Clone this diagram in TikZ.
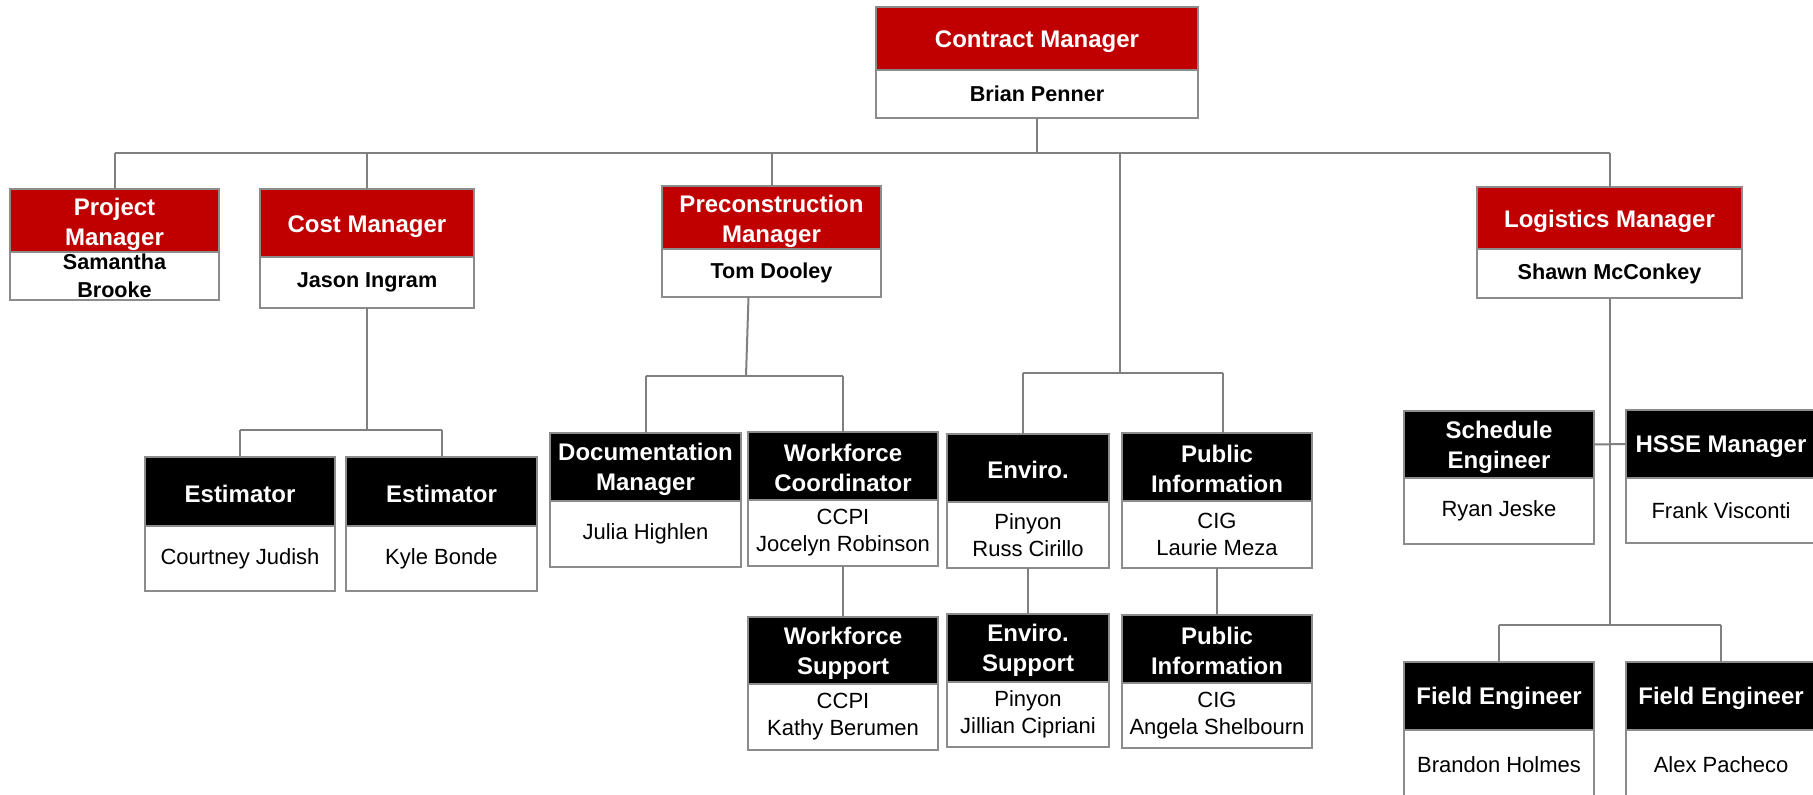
\documentclass[tikz,border=0pt]{standalone}
\usepackage{fontspec}
\setmainfont{Liberation Sans}
\usetikzlibrary{calc}
\definecolor{hred}{RGB}{192,0,0}
\definecolor{lgray}{RGB}{128,128,128}
\definecolor{bgray}{RGB}{140,140,140}
\tikzset{
  box/.style={draw=bgray, line width=0.8pt, rectangle, inner xsep=2pt, inner ysep=0pt, outer sep=0pt, anchor=north west, align=center},
  headtext/.style={text=white, align=center, inner sep=0pt, font=\fontsize{12}{15}\selectfont\bfseries},
  redhead/.style={box, fill=hred},
  redlabel/.style={headtext, yshift=-1.8pt},
  redbody/.style={box, fill=white, text=black, font=\fontsize{10.8}{14}\selectfont\bfseries},
  blackhead/.style={box, fill=black},
  blacklabel/.style={headtext, yshift=-1.2pt},
  blackbody/.style={box, fill=white, text=black, font=\fontsize{11}{13.5}\selectfont},
  conn/.style={draw=lgray, line width=1pt},
}
\newcommand{\obox}[9]{%
  \node[#7head, minimum width={(#4-#2)*0.5pt}, minimum height={(#5-#3)*0.5pt},
        label={[#7label]center:{#8}}] (#1h) at (#2,#3) {};
  \node[#7body, minimum width={(#4-#2)*0.5pt}, minimum height={(#6-#5)*0.5pt}] (#1) at (#2,#5) {#9};
}
\begin{document}
\begin{tikzpicture}[x=0.5pt,y=-0.5pt]
\useasboundingbox (0,0) rectangle (1813,795);
\clip (0,0) rectangle (1813,795);
\fill[white] (0,0) rectangle (1813,795);

% boxes
\obox{cm}{876}{7}{1198}{70}{118}{red}{Contract Manager}{Brian Penner}
\obox{pm}{10}{189}{219}{252}{300}{red}{Project\\Manager}{Samantha\\Brooke}
\obox{cost}{260}{189}{474}{257}{308}{red}{Cost Manager}{Jason Ingram}
\obox{pc}{662}{186}{881}{249}{297}{red}{Preconstruction\\Manager}{Tom Dooley}
\obox{lm}{1477}{187}{1742}{249}{298}{red}{Logistics Manager}{Shawn McConkey}
\obox{esta}{145}{457}{335}{526}{591}{black}{Estimator}{Courtney Judish}
\obox{estb}{346}{457}{537}{526}{591}{black}{Estimator}{Kyle Bonde}
\obox{doc}{550}{433}{741}{501}{567}{black}{Documentation\\Manager}{Julia Highlen}
\obox{wc}{748}{432}{938}{500}{566}{black}{Workforce\\Coordinator}{CCPI\\Jocelyn Robinson}
\obox{ws}{748}{617}{938}{684}{750}{black}{Workforce\\Support}{CCPI\\Kathy Berumen}
\obox{env}{947}{434}{1109}{502}{568}{black}{Enviro.}{Pinyon\\Russ Cirillo}
\obox{pi}{1122}{433}{1312}{501}{568}{black}{Public\\Information}{CIG\\Laurie Meza}
\obox{envs}{947}{614}{1109}{682}{747}{black}{Enviro.\\Support}{Pinyon\\Jillian Cipriani}
\obox{pis}{1122}{615}{1312}{683}{748}{black}{Public\\Information}{CIG\\Angela Shelbourn}
\obox{se}{1404}{411}{1594}{478}{544}{black}{Schedule\\Engineer}{Ryan Jeske}
\obox{hsse}{1626}{410}{1816}{478}{543}{black}{HSSE Manager}{Frank Visconti}
\obox{fea}{1404}{662}{1594}{730}{800}{black}{Field Engineer}{Brandon Holmes}
\obox{feb}{1626}{662}{1816}{730}{800}{black}{Field Engineer}{Alex Pacheco}

% main bus
\coordinate (busL) at (114.5,153);
\coordinate (busR) at (1609.5,153);
\draw[conn] (cm.south) -- (cm.south |- busL);
\draw[conn] (busL) -- (busR);
\draw[conn] (pmh.north) -- (pmh.north |- busL);
\draw[conn] (costh.north) -- (costh.north |- busL);
\draw[conn] (pch.north) -- (pch.north |- busL);
\draw[conn] (lmh.north) -- (lmh.north |- busL);

% cost branch
\coordinate (costbus) at (368,430);
\draw[conn] (cost.south) -- (cost.south |- costbus);
\draw[conn] (estah.north |- costbus) -- (estbh.north |- costbus);
\draw[conn] (estah.north) -- (estah.north |- costbus);
\draw[conn] (estbh.north) -- (estbh.north |- costbus);

% preconstruction branch
\coordinate (pcbus) at (746,376);
\draw[conn] ([xshift=-11.5pt]pc.south) -- (pcbus);
\draw[conn] (doch.north |- pcbus) -- (wch.north |- pcbus);
\draw[conn] (doch.north) -- (doch.north |- pcbus);
\draw[conn] (wch.north) -- (wch.north |- pcbus);
\draw[conn] (wc.south) -- (wsh.north);

% enviro / public branch
\coordinate (envbus) at (1120,373);
\coordinate (envL) at (1023,373);
\coordinate (envR) at (1223,373);
\draw[conn] (envbus |- busL) -- (envbus);
\draw[conn] (envL) -- (envR);
\draw[conn] (envL) -- (envL |- envh.north);
\draw[conn] (envR) -- (envR |- pih.north);
\draw[conn] (env.south) -- (envsh.north);
\draw[conn] (pi.south) -- (pish.north);

% logistics branch
\coordinate (lmbus) at (1609.5,625);
\draw[conn] (lm.south) -- (lm.south |- lmbus);
\draw[conn] (feah.north |- lmbus) -- (febh.north |- lmbus);
\draw[conn] (feah.north) -- (feah.north |- lmbus);
\draw[conn] (febh.north) -- (febh.north |- lmbus);
\draw[conn] (seh.east) -- (hsseh.west);
\end{tikzpicture}
\end{document}
